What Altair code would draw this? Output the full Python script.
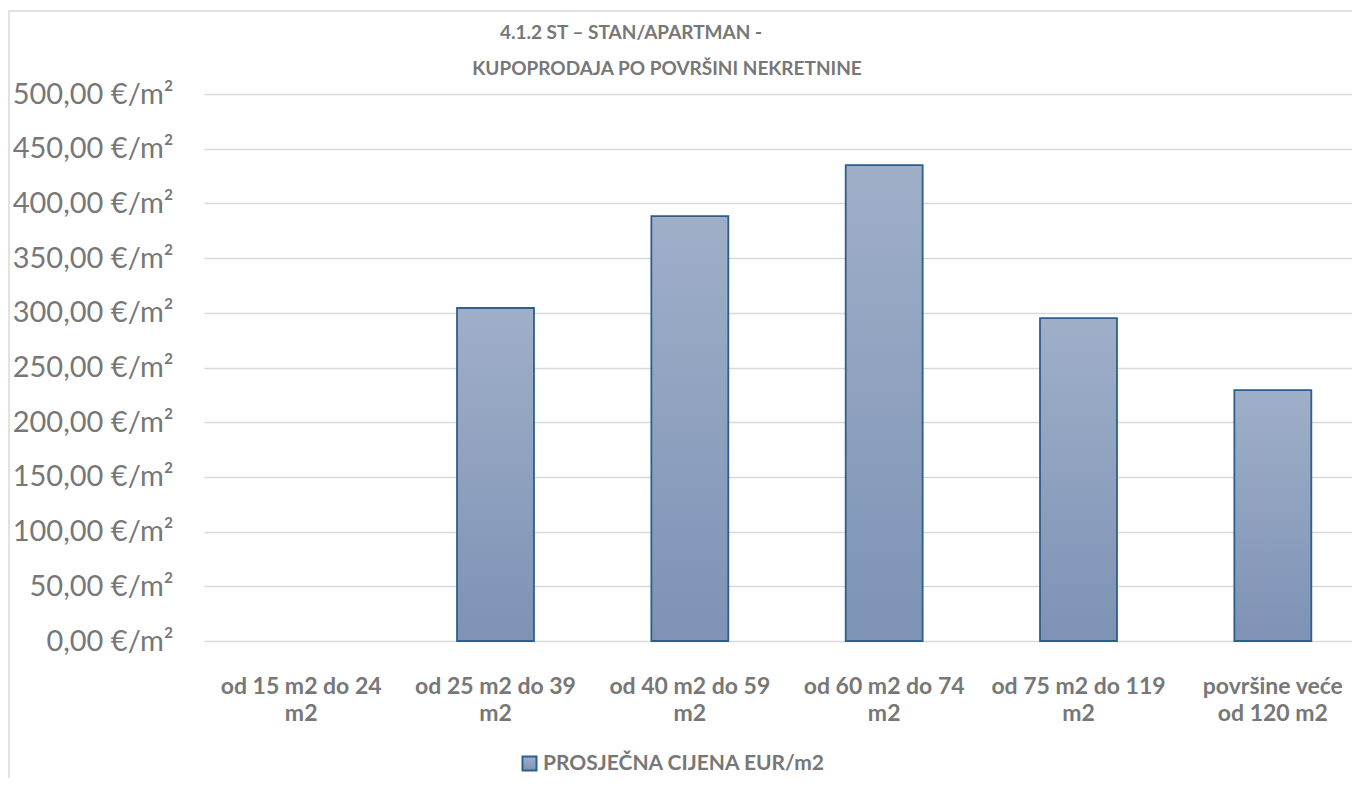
import altair as alt
import pandas as pd

# ---- data ----
categories = ["od 15 m2 do 24 m2", "od 25 m2 do 39 m2", "od 40 m2 do 59 m2",
              "od 60 m2 do 74 m2", "od 75 m2 do 119 m2", "površine veće od 120 m2"]
label_line1 = ["od 15 m2 do 24", "od 25 m2 do 39", "od 40 m2 do 59",
               "od 60 m2 do 74", "od 75 m2 do 119", "površine veće"]
label_line2 = ["m2", "m2", "m2", "m2", "m2", "od 120 m2"]
values = [None, 304.4, 388.3, 435.0, 295.2, 229.4]
y_ticks = [0, 50, 100, 150, 200, 250, 300, 350, 400, 450, 500]
series_name = "PROSJEČNA CIJENA EUR/m2"
title_line1 = "4.1.2 ST – STAN/APARTMAN -"
title_line2 = "KUPOPRODAJA PO POVRŠINI NEKRETNINE"

df = pd.DataFrame({"cat": categories, "val": values, "series": [series_name] * len(categories)})

FONT = "Lato"
GRAY = "#777777"

mapping = ",".join(
    "'{}': ['{}', '{}']".format(c, a, b) for c, a, b in zip(categories, label_line1, label_line2)
)
label_expr = "({" + mapping + "})[datum.label]"

grad = alt.Gradient(
    gradient="linear",
    stops=[alt.GradientStop(color="#9FAFC8", offset=0),
           alt.GradientStop(color="#7D92B5", offset=1)],
    x1=1, x2=1, y1=0, y2=1,
)

bars = alt.Chart(df).mark_bar(fill=grad, strokeWidth=1.8).encode(
    x=alt.X("cat:N", sort=categories,
            scale=alt.Scale(domain=categories, range=[0, 1166], paddingInner=0.604, paddingOuter=0.302),
            axis=alt.Axis(title=None, labelAngle=0, domain=False, ticks=False,
                          labelExpr=label_expr, labelFont=FONT, labelFontSize=23,
                          labelFontWeight="bold", labelColor=GRAY, labelLineHeight=27.6,
                          labelPadding=34, labelLimit=0, grid=False)),
    y=alt.Y("val:Q", scale=alt.Scale(domain=[0, 500], nice=False),
            axis=alt.Axis(title=None, values=y_ticks, domain=False, ticks=False,
                          labelExpr="replace(format(datum.value, '.2f'), '.', ',') + ' €/m²'",
                          labelFont=FONT, labelFontSize=29, labelColor=GRAY, labelPadding=31,
                          labelLimit=0, gridColor="#D9D9D9", gridWidth=1.5)),
    stroke=alt.Stroke("series:N", scale=alt.Scale(range=["#2E5E8E"]),
                      legend=alt.Legend(title=None, orient="none", legendX=315, legendY=659,
                                        symbolType="square", symbolSize=196,
                                        symbolFillColor="#8EA0BF", symbolStrokeWidth=2,
                                        labelFont=FONT, labelFontSize=21, labelFontWeight="bold",
                                        labelColor=GRAY, labelOffset=3, labelLimit=0)),
)

title_df = pd.DataFrame({"t": [title_line1, title_line2], "xp": [427, 463], "yp": [-61, -25]})
title_layer = alt.Chart(title_df).mark_text(
    font=FONT, fontSize=19, fontWeight="bold", color=GRAY, baseline="middle", align="center"
).encode(
    text="t:N",
    x=alt.X("xp:Q", scale=None),
    y=alt.Y("yp:Q", scale=None),
)

border = alt.Chart(pd.DataFrame({"b": [0]})).mark_rect(
    fill=None, stroke="#D9D9D9", strokeWidth=1.5
).encode(
    x=alt.value(-195), x2=alt.value(1300), y=alt.value(-83), y2=alt.value(800)
)

chart = alt.layer(border, bars, title_layer).properties(
    width=1148, height=547,
    padding={"left": 196, "top": 86, "right": 0, "bottom": 137},
    autosize="none",
).configure_view(stroke=None)

chart.save("out.html", embed_options={"renderer": "svg", "actions": False})
